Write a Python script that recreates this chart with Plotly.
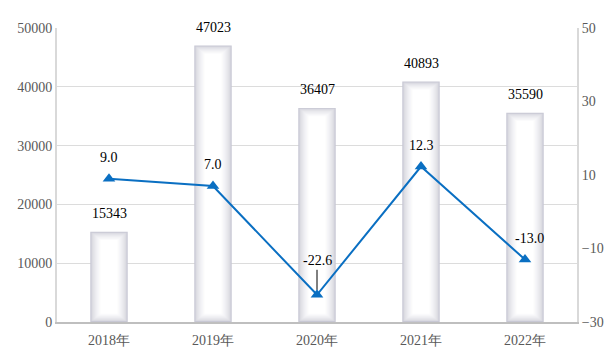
import plotly.graph_objects as go

years = ["2018年", "2019年", "2020年", "2021年", "2022年"]
values = [15343, 47023, 36407, 40893, 35590]
growth = [9.0, 7.0, -22.6, 12.3, -13.0]
left_ticks = [0, 10000, 20000, 30000, 40000, 50000]
right_ticks = [-30, -10, 10, 30, 50]

SERIF = "Liberation Serif, Times New Roman, serif"
fig = go.Figure()

# simulated cylinder/rect gradient: overlaid bars of decreasing size
layers = 10
edge = (200, 200, 212)
for i in range(layers):
    t = i / (layers - 1)
    k = t ** 0.55
    r = int(edge[0] + (255 - edge[0]) * k)
    g = int(edge[1] + (255 - edge[1]) * k)
    b = int(edge[2] + (255 - edge[2]) * k)
    w = 0.36 * (1 - 0.55 * t)
    inset = 1400 * t
    fig.add_trace(go.Bar(
        x=years,
        y=[max(v - 2 * inset, 0) for v in values],
        base=[inset] * len(values),
        width=w,
        marker=dict(color=f"rgb({r},{g},{b})", line=dict(width=0)),
        hoverinfo="skip",
        showlegend=False,
    ))

fig.add_trace(go.Scatter(
    x=years, y=growth, yaxis="y2", mode="lines+markers",
    line=dict(color="#0a6fc2", width=2),
    marker=dict(symbol="triangle-up", size=11, color="#0a6fc2"),
    showlegend=False,
))

# bar value labels
for x, v in zip(years, values):
    fig.add_annotation(x=x, y=v, text=str(v), showarrow=False, yanchor="bottom",
                       yshift=9, font=dict(family=SERIF, size=14, color="#000"))

# growth labels
for x, gval in zip(years, growth):
    if gval == min(growth):
        fig.add_annotation(x=x, y=gval, yref="y2", text=f"{gval:.1f}", showarrow=True,
                           arrowhead=0, arrowwidth=1, arrowcolor="#000", ax=0, ay=-34,
                           standoff=5, font=dict(family=SERIF, size=14, color="#000"))
    else:
        fig.add_annotation(x=x, y=gval, yref="y2", text=f"{gval:.1f}", showarrow=False,
                           yanchor="bottom", yshift=12, xshift=4 if gval < 0 else 0,
                           font=dict(family=SERIF, size=14, color="#000"))

fig.update_layout(
    width=607, height=356,
    margin=dict(l=49, r=38, t=20, b=42),
    paper_bgcolor="white", plot_bgcolor="white",
    barmode="overlay",
    xaxis=dict(type="category", showgrid=False, showline=True, linecolor="#bfbfbf",
               linewidth=2, ticks="", automargin=False, ticklabelstandoff=4,
               tickfont=dict(family=SERIF, size=14, color="#595959")),
    yaxis=dict(range=[0, 50000], tickvals=left_ticks, showgrid=True, gridcolor="#dcdcdc",
               gridwidth=1, showline=True, linecolor="#d9d9d9", linewidth=2,
               zeroline=False, ticks="", tickformat="d", automargin=False,
               tickfont=dict(family=SERIF, size=14, color="#595959")),
    yaxis2=dict(range=[-30, 50], tickvals=right_ticks, overlaying="y", side="right",
                showgrid=False, zeroline=False, showline=True, linecolor="#d9d9d9",
                linewidth=2, ticks="", automargin=False,
                tickfont=dict(family=SERIF, size=14, color="#595959")),
)

fig.write_html("out.html")
